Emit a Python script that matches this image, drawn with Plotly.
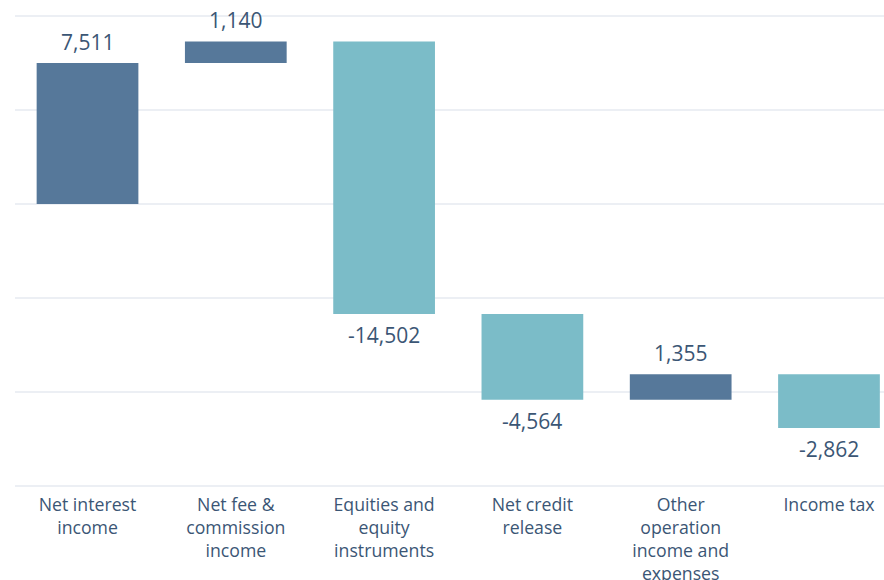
import plotly.graph_objects as go
import numpy as np

categories = ["Net interest<br>income", "Net fee &<br>commission<br>income",
              "Equities and<br>equity<br>instruments", "Net credit<br>release",
              "Other<br>operation<br>income and<br>expenses", "Income tax"]
values = [7511, 1140, -14502, -4564, 1355, -2862]
value_labels = ["7,511", "1,140", "-14,502", "-4,564", "1,355", "-2,862"]

DARK = "#56789a"
LIGHT = "#7bbcc8"
TEXT = "#3b5675"
FONT = "Open Sans"

x_idx = list(range(len(categories)))
fig = go.Figure(go.Waterfall(
    x=x_idx, y=values, measure=["relative"] * len(values),
    base=0, width=0.686,
    increasing=dict(marker=dict(color=DARK)),
    decreasing=dict(marker=dict(color=LIGHT)),
    connector=dict(visible=False),
    textposition="none", hoverinfo="skip",
))

cum = np.cumsum(values)
for i, (v, c, lab) in enumerate(zip(values, cum, value_labels)):
    fig.add_annotation(
        x=i, y=c, text=lab, showarrow=False,
        yanchor="bottom" if v > 0 else "top",
        yshift=5 if v > 0 else -5,
        font=dict(family=FONT, size=21, color=TEXT),
    )

fig.update_layout(
    width=884, height=580,
    margin=dict(l=15, r=0, t=15, b=93, autoexpand=False),
    paper_bgcolor="white", plot_bgcolor="white",
    showlegend=False,
    font=dict(family=FONT, color=TEXT),
    xaxis=dict(range=[-0.489, 5.371], tickmode="array", tickvals=x_idx,
               ticktext=categories, showgrid=False, zeroline=False,
               tickfont=dict(family=FONT, size=17.7, color=TEXT), ticks="",
               showline=False, ticklabelstandoff=5, automargin=False),
    yaxis=dict(range=[-15060, 10060], dtick=5000, showticklabels=False,
               gridcolor="#eceff4", gridwidth=1.5, zeroline=False, showline=False,
               automargin=False),
)

fig.write_html("out.html", config={"displayModeBar": False},
               post_script="document.body.style.margin='0';document.body.style.overflow='hidden';")
